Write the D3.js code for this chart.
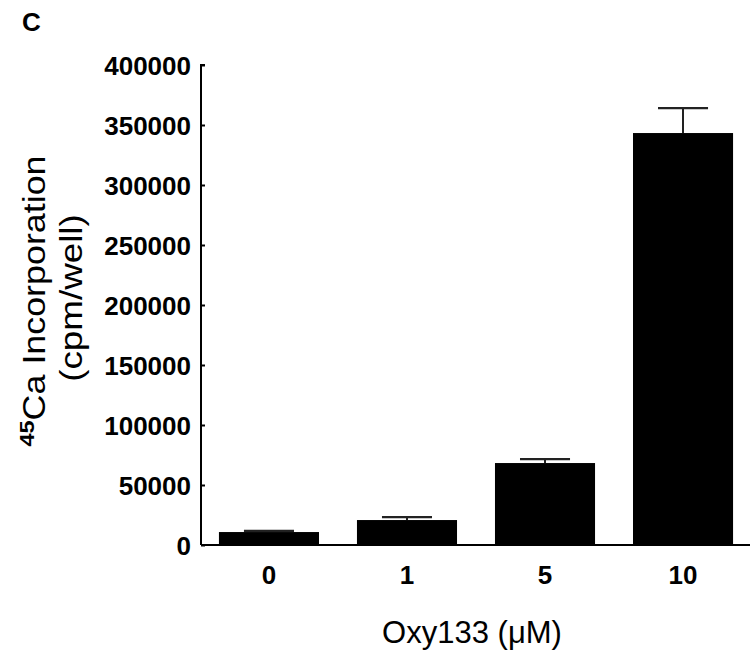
<!DOCTYPE html>
<html>
<head>
<meta charset="utf-8">
<script src="https://cdn.jsdelivr.net/npm/d3@7"></script>
<style>
  html, body { margin: 0; padding: 0; background: #fff; }
  svg { display: block; font-family: "Liberation Sans", Arial, sans-serif; }
</style>
</head>
<body>
<svg id="chart" width="756" height="653"></svg>
<script>
const categories = ["0", "1", "5", "10"];
const values = [10800, 20800, 68300, 343300];
const errors = [900, 2500, 3300, 20800];
const yTicks = [0, 50000, 100000, 150000, 200000, 250000, 300000, 350000, 400000];

const svg = d3.select("#chart");
const mLeft = 201, mRight = 751, mTop = 65, mBottom = 545;

const x = d3.scaleBand().domain(categories).range([mLeft, mRight]).paddingInner(0.275).paddingOuter(0.13);
const y = d3.scaleLinear().domain([0, 400000]).range([mBottom, mTop]);

// panel letter
svg.append("text").attr("x", 22).attr("y", 31).attr("font-size", 26).attr("font-weight", "bold").text("C");

// bars
svg.selectAll("rect.bar").data(values).join("rect")
  .attr("class", "bar")
  .attr("x", (d, i) => x(categories[i]))
  .attr("width", x.bandwidth())
  .attr("y", d => y(d))
  .attr("height", d => y(0) - y(d))
  .attr("fill", "#000");

// error bars
const capW = x.bandwidth() / 2;
const eg = svg.selectAll("g.err").data(values).join("g").attr("class", "err");
eg.append("line")
  .attr("x1", (d, i) => x(categories[i]) + x.bandwidth() / 2)
  .attr("x2", (d, i) => x(categories[i]) + x.bandwidth() / 2)
  .attr("y1", d => y(d))
  .attr("y2", (d, i) => y(d + errors[i]))
  .attr("stroke", "#222").attr("stroke-width", 2);
eg.append("line")
  .attr("x1", (d, i) => x(categories[i]) + x.bandwidth() / 2 - capW / 2)
  .attr("x2", (d, i) => x(categories[i]) + x.bandwidth() / 2 + capW / 2)
  .attr("y1", (d, i) => y(d + errors[i]))
  .attr("y2", (d, i) => y(d + errors[i]))
  .attr("stroke", "#222").attr("stroke-width", 2.2);

// y axis
const yAxis = d3.axisRight(y).tickValues(yTicks).tickSize(4).tickFormat(d3.format("d"));
const yg = svg.append("g").attr("transform", `translate(${mLeft},0)`).call(yAxis);
yg.select(".domain").attr("stroke", "#000").attr("stroke-width", 2).attr("d", `M4,${mTop}H0V${mBottom}`);
yg.selectAll(".tick line").attr("stroke", "#000").attr("stroke-width", 2);
yg.selectAll(".tick text")
  .attr("x", -10).attr("text-anchor", "end").attr("dy", "0.36em")
  .attr("font-size", 26).attr("font-weight", "bold")
  .attr("font-family", "Liberation Sans, Arial, sans-serif")
  .attr("fill", "#000");

// x axis
const xAxis = d3.axisBottom(x).tickSize(0).tickPadding(0);
const xg = svg.append("g").attr("transform", `translate(0,${mBottom})`).call(xAxis);
xg.select(".domain").attr("stroke", "#000").attr("stroke-width", 2).attr("d", `M${mLeft},0H${mRight - 1}`);
xg.selectAll(".tick text")
  .attr("y", 39).attr("dy", 0)
  .attr("font-size", 26).attr("font-weight", "bold")
  .attr("font-family", "Liberation Sans, Arial, sans-serif")
  .attr("fill", "#000");

// x title
svg.append("text").attr("x", 472).attr("y", 643).attr("text-anchor", "middle")
  .attr("font-size", 31).text("Oxy133 (\u03BCM)");

// y title
const yt = svg.append("text").attr("transform", "translate(45,301) rotate(-90) scale(1.12,1)")
  .attr("text-anchor", "middle").attr("font-size", 32);
yt.append("tspan").attr("font-weight", "bold").attr("font-size", 21).attr("dy", -11).text("45");
yt.append("tspan").attr("dy", 11).text("Ca Incorporation");
svg.append("text").attr("transform", "translate(82,298) rotate(-90) scale(1.15,1)")
  .attr("text-anchor", "middle").attr("font-size", 32).text("(cpm/well)");
</script>
</body>
</html>
